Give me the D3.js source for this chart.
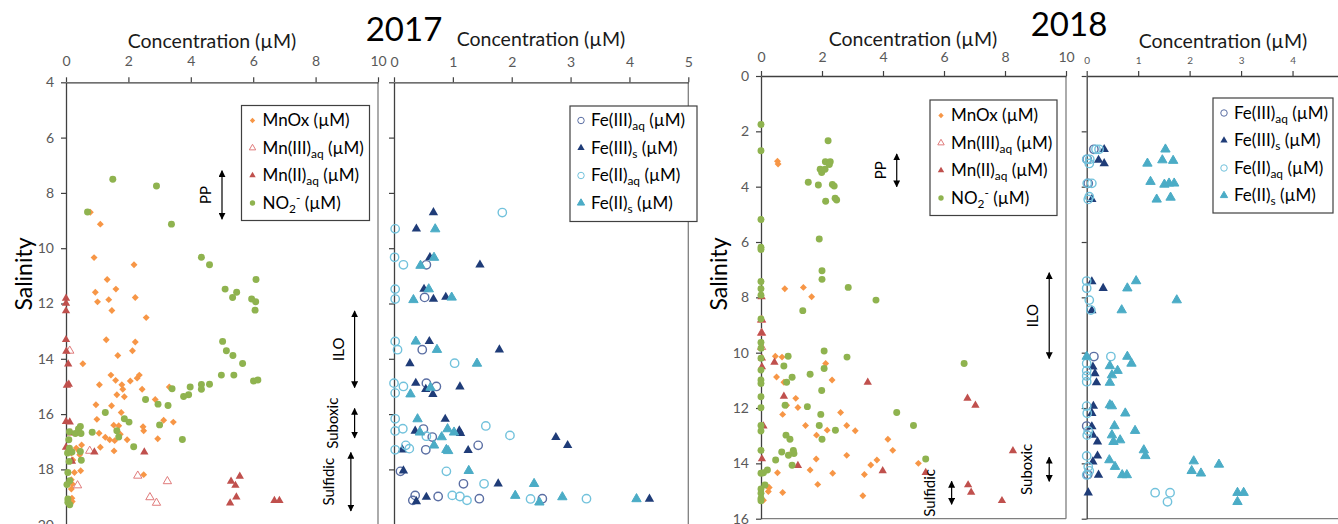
<!DOCTYPE html>
<html lang="en">
<head>
<meta charset="UTF-8">
<title>Mn and Fe species vs salinity, 2017 and 2018</title>
<script src="https://d3js.org/d3.v7.min.js"></script>
<style>
  body { margin: 0; background: #fff; }
  svg text { font-family: Lato, "Open Sans", sans-serif; }
</style>
</head>
<body>
<svg width="1338" height="524"></svg>
<script>
// ---- data: [concentration (uM), salinity] ----
const mnox17 = [[0.78,8.70],[1.10,9.13],[0.90,10.34],[2.18,10.60],[1.32,11.13],[1.60,11.48],[0.94,11.59],[1.01,11.94],[1.37,11.86],[2.22,11.78],[1.47,12.25],[2.57,12.51],[1.29,13.31],[2.22,13.39],[2.13,13.71],[1.66,13.88],[0.54,14.18],[1.44,14.59],[1.59,14.78],[2.28,14.70],[2.35,14.59],[1.07,14.94],[1.79,14.94],[2.06,14.80],[1.82,15.10],[2.44,15.10],[3.31,15.02],[1.63,15.30],[1.87,15.37],[2.86,15.47],[0.96,15.66],[1.46,15.70],[1.77,15.94],[0.99,16.19],[3.13,16.22],[3.44,16.29],[1.53,16.40],[1.69,16.42],[2.47,16.46],[2.49,16.60],[1.06,16.69],[1.26,16.84],[1.40,16.93],[1.56,16.96],[1.96,16.93],[2.94,16.89],[1.74,16.73],[1.10,17.20],[0.50,17.12],[0.33,17.23],[0.17,17.41],[0.43,17.35],[0.44,17.47],[0.22,17.66],[1.54,17.33],[0.27,18.11],[0.47,18.05],[2.49,18.19],[0.17,18.37],[0.20,18.53],[0.17,18.71],[0.19,19.04],[0.20,19.16],[0.14,19.24]];
const mn3aq17 = [[0.12,13.71],[0.76,17.33],[2.30,18.23],[3.25,18.43],[0.37,18.58],[2.69,19.01],[2.90,19.21]];
const mn2aq17 = [[0,11.81],[0,11.99],[0,12.27],[0,13.31],[0.01,13.73],[0.07,14.19],[0.03,14.96],[0.09,14.92],[0,16.27],[0.12,16.29],[0.16,16.69],[0,17.20],[0.19,17.71],[0.91,17.37],[2.51,17.37],[5.57,18.25],[5.29,18.43],[5.43,18.58],[5.46,19.00],[5.26,19.22],[6.68,19.13],[6.84,19.13]];
const no2_17 = [[1.50,7.51],[2.90,7.75],[0.69,8.69],[3.38,9.13],[4.34,10.33],[4.60,10.60],[5.10,11.48],[5.47,11.59],[5.34,11.78],[6.09,11.13],[5.95,11.84],[6.08,11.94],[6.06,12.24],[5.02,13.37],[5.14,13.71],[5.35,13.88],[5.66,14.17],[4.98,14.59],[5.38,14.59],[6.01,14.80],[6.15,14.77],[3.40,15.08],[3.98,15.02],[4.34,14.93],[4.34,15.10],[4.60,14.92],[2.55,15.47],[3.77,15.36],[3.93,15.30],[2.95,15.64],[3.27,15.69],[1.26,15.94],[1.87,16.17],[2.02,16.29],[3.00,16.39],[0.46,16.45],[0.40,16.54],[0.11,16.64],[0.30,16.70],[0.48,16.70],[0.84,16.66],[1.63,16.60],[1.69,16.83],[3.73,16.92],[2.17,17.18],[0.09,16.93],[0.11,17.23],[0.19,17.37],[0.46,17.35],[0.05,17.41],[0.10,17.71],[0.49,17.67],[0.06,18.11],[0.12,18.41],[0.03,18.55],[0.06,19.07],[0.12,19.28],[0.06,19.19]];

const fe3aq17 = [[0.55,10.60],[0.52,11.78],[0.48,13.67],[0.55,14.88],[0.72,15.00],[0.50,16.54],[0.65,16.83],[0.54,17.29],[1.43,17.13],[0.11,18.07],[1.18,18.52],[0.36,18.94],[0.75,18.98],[0.32,19.12],[1.45,19.06],[2.52,19.06]];
const fe3s17 = [[0.67,8.71],[0.38,9.30],[0.61,10.33],[1.46,10.60],[0.51,11.48],[0.67,11.84],[0.88,11.77],[0.60,13.37],[1.79,13.67],[0.27,14.17],[0.37,14.88],[0.54,15.10],[0.66,15.28],[1.12,15.01],[0.87,16.18],[0.36,16.61],[1.11,16.60],[1.13,16.69],[2.75,16.84],[2.95,17.13],[0.14,17.29],[1.26,17.31],[0.16,18.05],[1.77,18.52],[0.55,19.00],[0.38,19.16],[4.34,19.07]];
const fe2aq17 = [[1.84,8.71],[0.02,9.30],[0.01,10.33],[0.16,10.60],[0.02,11.48],[0.02,11.84],[0.02,13.37],[0.06,13.67],[1.03,14.16],[0,14.88],[0.16,15.00],[0.02,15.24],[0.02,16.17],[0.15,16.53],[0.02,16.61],[1.56,16.43],[0.55,16.80],[1.97,16.77],[0.20,17.13],[0.26,17.25],[0.02,17.29],[0.89,18.07],[1.53,18.52],[0.99,18.94],[1.12,18.98],[1.24,19.12],[2.32,19.07],[3.27,19.06]];
const fe2s17 = [[0.70,9.31],[0.68,10.34],[0.45,10.63],[0.59,11.48],[0.98,11.78],[0.33,11.87],[0.37,13.37],[0.73,13.67],[1.41,14.17],[0.62,15.04],[0.28,15.28],[0.40,16.18],[0.91,16.54],[0.44,16.66],[1.02,16.66],[0.81,16.83],[0.68,17.13],[0.89,17.29],[0.92,17.33],[1.27,18.05],[2.38,18.52],[2.06,18.95],[2.86,19.00],[4.12,19.07],[2.47,19.19]];

const mnox18 = [[0.54,3.08],[0.56,3.18],[0.78,7.69],[1.39,7.64],[1.66,7.98],[0.47,10.13],[0.69,10.16],[2.12,10.39],[0.51,10.88],[2.33,10.99],[0.75,11.07],[1.14,11.65],[0.84,11.90],[1.21,11.98],[0.71,12.23],[2.61,12.16],[1.46,12.63],[2.81,12.63],[2.17,12.80],[3.09,12.82],[1.82,12.98],[4.16,13.13],[4.32,13.53],[2.81,13.71],[0.93,13.69],[1.81,13.84],[3.80,13.88],[3.60,14.06],[5.16,14.00],[0.54,14.34],[1.61,14.24],[2.35,14.36],[3.39,14.40],[1.86,14.76],[0.19,14.82],[0.27,14.87],[0.24,15.02],[0.71,15.05],[3.34,15.17],[0.08,15.33]];
const mn3aq18 = [[0.02,8.82],[0.02,9.29],[0.02,9.80]];
const mn2aq18 = [[0.02,7.98],[0.02,8.80],[0.02,9.28],[0.03,10.20],[0.03,10.51],[0.44,10.35],[3.50,11.07],[0.75,11.58],[0.08,12.65],[0.03,13.84],[1.21,14.08],[3.99,14.27],[5.40,14.33],[6.77,11.65],[7.03,11.90],[8.26,13.55],[6.79,14.78],[6.89,15.05],[7.90,15.35]];
const no2_18 = [[0,1.75],[0,2.70],[2.20,2.34],[2.11,3.10],[2.27,3.10],[2.24,3.20],[1.94,3.37],[1.99,3.49],[2.10,3.37],[1.55,3.84],[1.88,3.94],[2.34,3.92],[2.40,3.98],[2.12,4.53],[2.43,4.42],[2.48,4.48],[0,5.19],[0,6.19],[0,6.27],[1.91,5.89],[2.00,7.04],[2.00,7.35],[2.86,7.64],[3.77,8.10],[1.37,8.48],[0,7.43],[0,7.69],[0,7.92],[0,8.78],[0,9.63],[0,9.84],[2.07,9.94],[0.89,10.13],[2.82,10.16],[0,10.20],[6.66,10.39],[0.75,10.48],[2.07,10.57],[0,10.63],[1.02,10.89],[1.61,10.78],[0,10.99],[0,11.11],[0.84,11.07],[1.99,11.37],[0,11.59],[0.79,11.90],[1.52,11.95],[0,11.99],[1.96,12.23],[4.45,12.16],[5.00,12.63],[1.91,12.63],[2.44,12.80],[0,12.63],[0,12.83],[0.82,12.98],[0.95,13.13],[2.00,13.13],[0.68,13.59],[1.06,13.53],[1.08,13.64],[0.90,13.71],[0,13.53],[0.48,13.88],[5.40,13.84],[1.02,14.07],[0.21,14.24],[0,14.36],[0.08,14.34],[0.13,14.78],[0,14.93],[0,15.08],[0,15.27],[0,15.35]];

const fe3aq18 = [[0.14,2.65],[0.01,3.01],[0.03,3.88],[0.14,10.14],[0,12.65],[0.02,14.40]];
const fe3s18 = [[0.34,2.65],[0.23,3.04],[0.34,3.16],[0.10,4.46],[0.10,7.43],[0.32,7.67],[0.10,8.48],[0.12,10.51],[0.16,10.75],[0.19,11.08],[0.13,11.93],[0.10,12.19],[0.10,12.67],[0.12,12.98],[0.21,13.22],[0.21,13.73],[0.12,13.94],[0.23,14.42],[0.03,15.06]];
const fe2aq18 = [[0.18,2.65],[0.24,2.65],[0,3.01],[0.06,3.01],[0.05,3.16],[0.01,3.88],[0.10,3.88],[0.05,4.36],[0.03,4.46],[0,7.41],[0,7.67],[0.05,8.10],[0.08,8.46],[0,10.39],[0,10.65],[0,10.84],[0,11.05],[0.47,10.14],[0,11.93],[0.01,12.19],[0.03,12.83],[0.01,12.98],[0,13.73],[0.03,14.12],[0.05,14.27],[0,14.42],[1.33,15.06],[1.62,15.06],[1.57,15.39]];
const fe2s18 = [[1.53,2.65],[1.18,3.16],[1.47,3.04],[1.68,3.06],[1.24,3.82],[1.51,3.92],[1.60,3.88],[1.70,3.88],[1.36,4.46],[1.63,4.39],[0.96,7.41],[0.79,7.67],[1.75,8.10],[0.68,8.46],[0,10.14],[0.79,10.14],[0.87,10.39],[0.45,10.48],[0.60,10.65],[0.49,10.81],[0.45,11.08],[0.45,11.89],[0.49,11.93],[0.75,12.19],[0.54,12.65],[0.94,12.82],[0.49,12.98],[0.52,13.22],[0.65,13.16],[1.11,13.52],[1.14,13.73],[0.44,13.88],[0.55,14.12],[2.08,13.92],[2.57,14.04],[2.04,14.27],[2.22,14.36],[0.69,14.42],[0.78,14.42],[2.93,15.06],[3.05,15.06],[2.93,15.39]];

// zone annotations: label, concentration at arrow, salinity range
const zones17 = [["PP",5.0,7.2,8.95],["ILO",9.25,12.27,15.04],["Suboxic",9.25,15.8,16.86],["Sulfidic",9.13,17.39,19.5]];
const zones18 = [["PP",4.45,2.82,4.0],["ILO",9.45,7.11,10.21],["Suboxic",9.45,13.78,14.65],["Sulfidic",6.25,14.65,15.48]];

const mnTicksX = [0,2,4,6,8,10];
const feTicksX = [0,1,2,3,4,5];
const feTicksX18 = [0,1,2,3,4];
const salTicks17 = d3.range(4, 21, 2);
const salTicks18 = d3.range(0, 17, 2);

// legend labels: [text, "", "sub" or "sup"]
const lblMnOx = [["MnOx (µM)",""]];
const lblMn3 = [["Mn(III)",""],["aq","sub"],[" (µM)",""]];
const lblMn2 = [["Mn(II)",""],["aq","sub"],[" (µM)",""]];
const lblNO2 = [["NO",""],["2","sub"],["-","sup"],[" (µM)",""]];
const lblFe3aq = [["Fe(III)",""],["aq","sub"],[" (µM)",""]];
const lblFe3s = [["Fe(III)",""],["s","sub"],[" (µM)",""]];
const lblFe2aq = [["Fe(II)",""],["aq","sub"],[" (µM)",""]];
const lblFe2s = [["Fe(II)",""],["s","sub"],[" (µM)",""]];

// ---- styles ----
const ST = {
  mnox: {shape: "diamond", fill: "#f79646", stroke: "none"},
  mn3:  {shape: "tri", fill: "none", stroke: "#e07b7b"},
  mn2:  {shape: "tri", fill: "#c0504d", stroke: "none"},
  no2:  {shape: "circle", fill: "#8fb34f", stroke: "none"},
  fe3aq:{shape: "ring", fill: "none", stroke: "#5a6ea3"},
  fe3s: {shape: "bigtri", fill: "#1f3c78", stroke: "none"},
  fe2aq:{shape: "ring", fill: "none", stroke: "#72c2dc"},
  fe2s: {shape: "bigtri", fill: "#4bacc6", stroke: "#4bacc6"}
};

const svg = d3.select("svg");
const defs = svg.append("defs");
defs.append("marker").attr("id","ah").attr("viewBox","0 0 10 10")
  .attr("refX",9).attr("refY",5).attr("markerWidth",7).attr("markerHeight",7)
  .attr("markerUnits","userSpaceOnUse").attr("orient","auto-start-reverse")
  .append("path").attr("d","M0,0L10,5L0,10Z").attr("fill","#000");

function symPath(shape, k) {
  if (shape === "diamond") return d3.symbol(d3.symbolSquare, 24 * k)();
  if (shape === "tri") return d3.symbol(d3.symbolTriangle, 30 * k)();
  if (shape === "bigtri") return d3.symbol(d3.symbolTriangle, 38 * k)();
  if (shape === "circle") return d3.symbol(d3.symbolCircle, 38 * k)();
  return d3.symbol(d3.symbolCircle, 55 * k)();
}

function drawMarks(g, data, st, x, y, k) {
  g.selectAll(null).data(data).enter().append("path")
    .attr("d", symPath(st.shape, k))
    .attr("transform", d => `translate(${x(d[0])},${y(d[1])})` + (st.shape === "diamond" ? " rotate(45)" : ""))
    .attr("fill", st.fill)
    .attr("stroke", st.stroke)
    .attr("stroke-width", st.shape === "ring" ? 1.4 : 1);
}

function label(textSel, parts) {
  parts.forEach((p, i) => {
    const t = textSel.append("tspan").text(p[0]);
    const prev = parts[i - 1];
    if (p[1] === "sub") t.attr("font-size", "70%").attr("dy", 4);
    else if (p[1] === "sup") t.attr("font-size", "70%").attr("dy", -11);
    else if (prev && prev[1] === "sub") t.attr("dy", -4);
    else if (prev && prev[1] === "sup") t.attr("dy", 7);
  });
}

function panel(cfg) {
  const x = d3.scaleLinear().domain(cfg.xd).range(cfg.xr);
  const y = d3.scaleLinear().domain(cfg.yd).range(cfg.yr);
  const g = svg.append("g");

  // frame: right / bottom borders
  g.append("line").attr("x1", cfg.xr[1]).attr("x2", cfg.xr[1]).attr("y1", cfg.yr[0]).attr("y2", cfg.yr[1])
    .attr("stroke", "#7f7f7f").attr("stroke-width", 1.3);
  g.append("line").attr("x1", cfg.xr[0]).attr("x2", cfg.xr[1]).attr("y1", cfg.yr[1]).attr("y2", cfg.yr[1])
    .attr("stroke", "#7f7f7f").attr("stroke-width", 1.3);

  const ax = g.append("g").attr("transform", `translate(0,${cfg.yr[0]})`)
    .call(d3.axisTop(x).tickValues(cfg.xt).tickSize(5).tickSizeOuter(0).tickPadding(cfg.xpad)
      .tickFormat(d3.format("d")));
  const ay = g.append("g").attr("transform", `translate(${cfg.xr[0]},0)`)
    .call(d3.axisLeft(y).tickValues(cfg.yt).tickSize(5).tickSizeOuter(0).tickPadding(7)
      .tickFormat(cfg.ylabels ? d3.format("d") : ""));
  [ax, ay].forEach(a => {
    a.select(".domain").attr("stroke", "#404040").attr("stroke-width", 1.3);
    a.selectAll(".tick line").attr("stroke", "#404040").attr("stroke-width", 1.2);
    a.selectAll(".tick text").attr("fill", "#595959").attr("font-size", cfg.tickFont)
      .attr("font-family", "Lato, sans-serif");
  });

  g.append("text").attr("x", cfg.titleX).attr("y", cfg.titleY).attr("text-anchor", "middle")
    .attr("font-size", 19.5).attr("fill", "#1a1a1a").text("Concentration (µM)");
  if (cfg.ylabels) {
    g.append("text").attr("transform", `translate(${cfg.salX},${cfg.salY}) rotate(-90)`)
      .attr("text-anchor", "middle").attr("font-size", 23).attr("fill", "#000").text("Salinity");
  }

  const mk = g.append("g");
  cfg.series.forEach(s => drawMarks(mk, s.data, s.st, x, y, 1));

  // zones
  (cfg.zones || []).forEach(z => {
    const zx = x(z[1]);
    g.append("line").attr("x1", zx).attr("x2", zx).attr("y1", y(z[2])).attr("y2", y(z[3]))
      .attr("stroke", "#000").attr("stroke-width", 1.2)
      .attr("marker-start", "url(#ah)").attr("marker-end", "url(#ah)");
    const off = z[0].length > 3 ? 17 : 11;
    g.append("text").attr("transform", `translate(${zx - off},${(y(z[2]) + y(z[3])) / 2}) rotate(-90)`)
      .attr("text-anchor", "middle").attr("font-size", 15).attr("fill", "#000").text(z[0]);
  });

  // legend
  const L = cfg.legend;
  const lg = g.append("g");
  lg.append("rect").attr("x", L.x).attr("y", L.y).attr("width", L.w).attr("height", L.h)
    .attr("fill", "#fff").attr("stroke", "#404040").attr("stroke-width", 1.2);
  cfg.series.forEach((s, i) => {
    const cy = L.y + L.first + i * L.step;
    lg.append("path").attr("d", symPath(s.st.shape, 0.6))
      .attr("transform", `translate(${L.x + 11},${cy})` + (s.st.shape === "diamond" ? " rotate(45)" : ""))
      .attr("fill", s.st.fill).attr("stroke", s.st.stroke).attr("stroke-width", 1);
    const t = lg.append("text").attr("x", L.x + 21).attr("y", cy + 5.5).attr("font-size", 17).attr("fill", "#000");
    label(t, s.lbl);
  });
}

panel({
  xd: [0, 10], xr: [66, 378], yd: [4, 20], yr: [82.3, 524.7], xt: mnTicksX, yt: salTicks17,
  xpad: 11, tickFont: 14, ylabels: true, titleX: 212, titleY: 48, salX: 32, salY: 274,
  series: [
    {data: mnox17, st: ST.mnox, lbl: lblMnOx}, {data: mn3aq17, st: ST.mn3, lbl: lblMn3},
    {data: mn2aq17, st: ST.mn2, lbl: lblMn2}, {data: no2_17, st: ST.no2, lbl: lblNO2}],
  zones: zones17,
  legend: {x: 241.5, y: 105.5, w: 128, h: 115, first: 15, step: 27.5}
});
panel({
  xd: [0, 5], xr: [394, 688.3], yd: [4, 20], yr: [82.3, 524.7], xt: feTicksX, yt: salTicks17,
  xpad: 10, tickFont: 14, ylabels: false, titleX: 541, titleY: 46,
  series: [
    {data: fe3aq17, st: ST.fe3aq, lbl: lblFe3aq}, {data: fe3s17, st: ST.fe3s, lbl: lblFe3s},
    {data: fe2aq17, st: ST.fe2aq, lbl: lblFe2aq}, {data: fe2s17, st: ST.fe2s, lbl: lblFe2s}],
  legend: {x: 570, y: 106, w: 127, h: 115.5, first: 14.5, step: 27.5}
});
panel({
  xd: [0, 10], xr: [761, 1066], yd: [0, 16], yr: [76, 518.7], xt: mnTicksX, yt: salTicks18,
  xpad: 9, tickFont: 14, ylabels: true, titleX: 913, titleY: 46, salX: 727, salY: 274,
  series: [
    {data: mnox18, st: ST.mnox, lbl: lblMnOx}, {data: mn3aq18, st: ST.mn3, lbl: lblMn3},
    {data: mn2aq18, st: ST.mn2, lbl: lblMn2}, {data: no2_18, st: ST.no2, lbl: lblNO2}],
  zones: zones18,
  legend: {x: 930, y: 100, w: 127, h: 115.5, first: 15.5, step: 27.5}
});
panel({
  xd: [0, 5], xr: [1086.7, 1344], yd: [0, 16], yr: [76, 518.7], xt: feTicksX18, yt: salTicks18,
  xpad: 7, tickFont: 10, ylabels: false, titleX: 1223, titleY: 48,
  series: [
    {data: fe3aq18, st: ST.fe3aq, lbl: lblFe3aq}, {data: fe3s18, st: ST.fe3s, lbl: lblFe3s},
    {data: fe2aq18, st: ST.fe2aq, lbl: lblFe2aq}, {data: fe2s18, st: ST.fe2s, lbl: lblFe2s}],
  legend: {x: 1213, y: 98, w: 120, h: 115, first: 15, step: 27.5}
});

svg.append("text").attr("x", 404).attr("y", 41).attr("text-anchor", "middle")
  .attr("font-size", 33).attr("fill", "#000").text("2017");
svg.append("text").attr("x", 1069).attr("y", 36).attr("text-anchor", "middle")
  .attr("font-size", 33).attr("fill", "#000").text("2018");
</script>
</body>
</html>
